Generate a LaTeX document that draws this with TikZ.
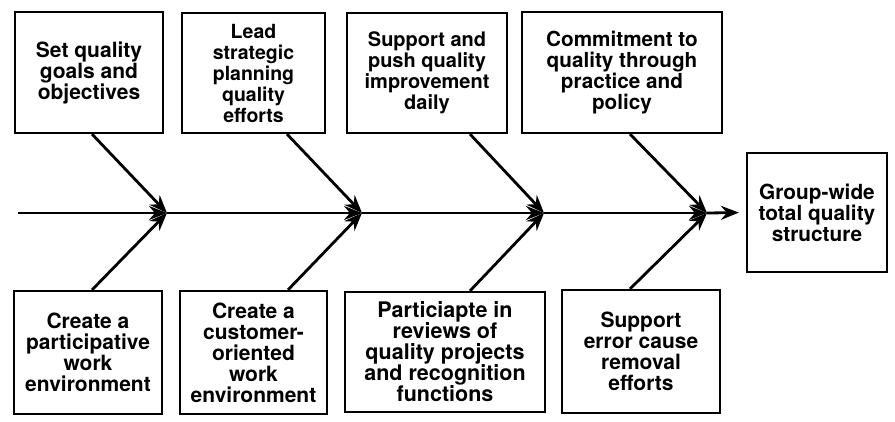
\documentclass[tikz,border=0pt]{standalone}
\usepackage{fontspec}
\setmainfont{TeX Gyre Heros}
\usetikzlibrary{arrows.meta,calc}
\tikzset{
  box/.style={draw=black, line width=2.2pt, rectangle, align=center, inner sep=0pt,
    font=\bfseries\fontsize{#1}{21}\selectfont},
  box/.default=20.8,
  arr/.style={line width=2.8pt, -{Stealth[length=18pt,width=14pt,inset=6pt]}},
}
\begin{document}
\begin{tikzpicture}[x=1pt,y=-1pt]
\useasboundingbox[fill=white] (0,0) rectangle (895,422);
% top boxes
\node[box=21, minimum width=148pt, minimum height=121pt] (b1) at (89,72.5) {Set quality\\goals and\\objectives};
\node[box=19.5, minimum width=143pt, minimum height=120pt] (b2) at (253.5,73) {Lead\\strategic\\planning\\quality\\efforts};
\node[box=20, minimum width=160pt, minimum height=120pt] (b3) at (427,73) {Support and\\push quality\\improvement\\daily};
\node[box=20.7, minimum width=200pt, minimum height=121pt] (b4) at (622,72.5) {Commitment to\\quality through\\practice and\\policy};
% bottom boxes
\node[box=21, minimum width=148pt, minimum height=123pt] (b5) at (88,352.5) {Create a\\participative\\work\\environment};
\node[box=21, minimum width=147pt, minimum height=123pt] (b6) at (253.5,352.5) {Create a\\customer-\\oriented\\work\\environment};
\node[box=21.5, minimum width=200pt, minimum height=120pt] (b7) at (445,352) {Particiapte in\\reviews of\\quality projects\\and recognition\\functions};
\node[box=21, minimum width=158pt, minimum height=123pt] (b8) at (641,351.5) {Support\\error cause\\removal\\efforts};
% result
\node[box=20.8, minimum width=140pt, minimum height=119pt] (res) at (817,212.5) {Group-wide\\total quality\\structure};
% spine
\coordinate (s0) at (18,213);
\coordinate (j1) at (167,213);
\coordinate (j2) at (362,213);
\coordinate (j3) at (544,213);
\coordinate (j4) at (707,213);
\draw[arr] (s0) -- (j1);
\draw[arr] (j1) -- (j2);
\draw[arr] (j2) -- (j3);
\draw[arr] (j3) -- (j4);
\draw[arr, shorten >=7pt] (j4) -- (res.west);
% diagonals
\draw[arr] ($(b1.south)+(3,0)$) -- (j1);
\draw[arr] ($(b2.south)+(33.5,0)$) -- (j2);
\draw[arr] ($(b3.south)+(43,0)$) -- (j3);
\draw[arr] ($(b4.south)+(8,0)$) -- (j4);
\draw[arr] ($(b5.north)+(4,0)$) -- (j1);
\draw[arr] ($(b6.north)+(34.5,0)$) -- (j2);
\draw[arr] ($(b7.north)+(25,0)$) -- (j3);
\draw[arr] ($(b8.north)+(-11,0)$) -- (j4);
\end{tikzpicture}
\end{document}
